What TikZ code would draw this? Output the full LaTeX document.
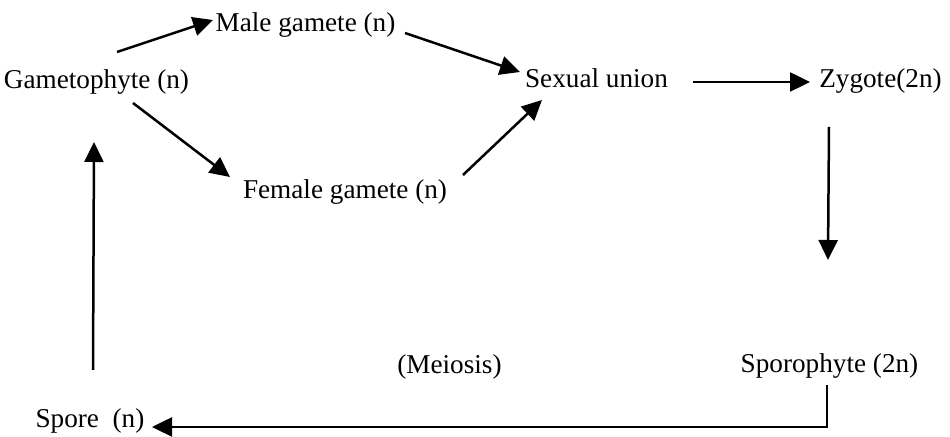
\documentclass[tikz,border=0pt]{standalone}
\usepackage{fontspec}
\setmainfont{Liberation Serif}
\usetikzlibrary{arrows.meta,calc}
\begin{document}
\begin{tikzpicture}[x=0.5pt,y=-0.5pt,
  lbl/.style={inner sep=0pt,anchor=base,font=\fontsize{13.6pt}{16pt}\selectfont},
  arr/.style={line width=1.25pt,-{Triangle[length=10pt,width=9.5pt]}},
  ln/.style={line width=1.25pt}]
\useasboundingbox (0,0) rectangle (950,437);
\node[lbl] (gam) at (96.5,89) {Gametophyte (n)};
\node[lbl] (male) at (305.5,32) {Male gamete (n)};
\node[lbl] (female) at (345,199) {Female gamete (n)};
\node[lbl] (sex) at (596.5,88) {Sexual union};
\node[lbl] (zyg) at (880.5,88) {Zygote(2n)};
\node[lbl] (meio) at (449.5,374) {(Meiosis)};
\node[lbl] (spor) at (829.5,373) {Sporophyte (2n)};
\node[lbl] (spore) at (90,428) {Spore\ \ (n)};
\draw[arr] ($(gam.base)+(20.5,-37)$) -- ($(male.base)+(-92.5,-12)$);
\draw[arr] ($(male.base)+(99.5,1)$) -- ($(sex.base)+(-76.5,-16)$);
\draw[arr] ($(gam.base)+(36.5,14)$) -- ($(female.base)+(-115,-22)$);
\draw[arr] ($(female.base)+(118,-24)$) -- ($(sex.base)+(-54.5,12)$);
\draw[arr] ($(sex.base)+(96.5,-6)$) -- ($(zyg.base)+(-70.5,-6)$);
\draw[arr] ($(zyg.base)+(-51.5,39)$) -- ($(spor.base)+(-1.5,-113)$);
\draw[arr] ($(spor.base)+(-2.5,12)$) |- ($(spore.base)+(62,-1)$);
\draw[arr] ($(spore.base)+(3,-58)$) -- ($(gam.base)+(-2.5,53)$);
\end{tikzpicture}
\end{document}
